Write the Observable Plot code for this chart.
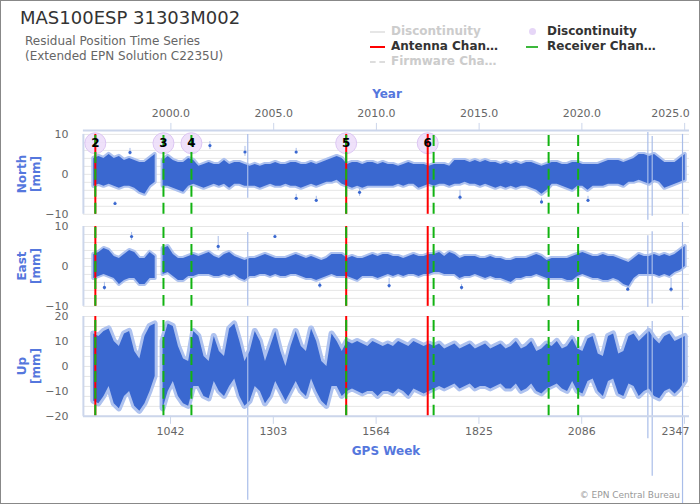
<!DOCTYPE html>
<html><head><meta charset="utf-8">
<script src="https://cdn.jsdelivr.net/npm/d3@7"></script>
<script src="https://cdn.jsdelivr.net/npm/@observablehq/plot@0.6"></script>
<style>
html,body{margin:0;padding:0;background:#fff;}
#frame{position:relative;width:698px;height:502px;border:1px solid #888;background:#fff;overflow:hidden;font-family:"DejaVu Sans",sans-serif;}
.abs{position:absolute;white-space:nowrap;}
#title{left:19px;top:6px;font-size:18px;color:#333;}
#sub{left:24px;top:33px;font-size:12px;color:#666;line-height:15px;}
.leg{position:absolute;font-size:12px;font-weight:bold;line-height:15px;height:15px;white-space:nowrap;}
.axt{position:absolute;font-size:12px;font-weight:bold;color:#5577dd;line-height:15px;text-align:center;width:120px;}
.ylab{position:absolute;width:80px;height:28px;transform:rotate(-90deg);text-align:center;line-height:14px;font-size:12px;font-weight:bold;color:#5577dd;}
#copy{right:19px;top:489px;font-size:9px;color:#999;}
.pl{position:absolute;left:-1px;}
</style></head><body>
<div id="frame">
  <div id="title" class="abs">MAS100ESP 31303M002</div>
  <div id="sub" class="abs">Residual Position Time Series<br>(Extended EPN Solution C2235U)</div>
  <div id="legend"></div>
  <div class="axt" style="left:326px;top:86px;">Year</div>
  <div class="axt" style="left:325px;top:443px;">GPS Week</div>
  <div class="ylab" style="left:-12px;top:159px;">North<br>[mm]</div>
  <div class="ylab" style="left:-12px;top:251px;">East<br>[mm]</div>
  <div class="ylab" style="left:-12px;top:351px;">Up<br>[mm]</div>
  <div id="copy" class="abs">© EPN Central Bureau</div>
  <div id="pN" class="pl" style="top:80px;"></div>
  <div id="pE" class="pl" style="top:221px;"></div>
  <div id="pU" class="pl" style="top:311px;"></div>
</div>
<script>
// ---------- data ----------
const weeks = [847,860,873,886,899,912,925,938,951,964,977,990,1003, 1013,
 1023,1036,1049,1062,1075,1088,1101,1114,1127,1140,
 1153,1166,1179,1192,1205,1218,1231,1244,1257,1270,
 1283,1296,1309,1322,1335,1348,1361,1374,1387,1400,
 1413,1426,1439,1452,1465,1478,1491,1504,1517,1530,
 1543,1556,1569,1582,1595,1608,1621,1634,1647,1660,
 1673,1686,1699,1712,1725,1738,1751,1764,1777,1790,
 1803,1816,1829,1842,1855,1868,1881,1894,1907,1920,
 1933,1946,1959,1972,1985,1998,2011,2024,2037,2050,
 2063,2076,2089,2102,2115,2128,2141,2154,2167,2180,
 2193,2206,2219,2232,2245,2258,2271,2284,2297,2310,
 2323,2336,2349];

const northHi = [4,4.5,4,5,4,4.5,3.5,4,3.5,3,3,4,5, null,
 3.5,4.5,3.5,3,3,4,3.5,2,2.5,3, 2.5,2.5,3.5,2.5,3,3,2.5,2,2.5,2,
 2.5,2.5,3,2.5,2.5,3,3,2.5,2.5,3, 2.5,3,3.5,4,4.5,4,2.5,3,3,2.5,
 3,3,2.5,3,2.5,
 2.5,2,2.5,3,2.5,2.5,2.5,2,2.5,2.5, 2.5,2,3.5,3.5,3.5,3,3.5,3,3.5,3,
 3,2.5,3,2.5,3,2.5,3,3,2.5,2, 2.5,3,3,2.5,2.5,3,3,2.5,2.5,2.5,
 2.5,3,3.5,3.5,3.5,3,3.5,4,5,5, 4.5,5,4,3,3,3,4,5];
const northLo = [-3,-2.5,-3,-2.5,-3,-3.5,-3,-3,-3.5,-4.5,-5,-3,-2, null,
 -3,-3,-3.5,-4,-4.5,-3,-2.5,-3,-3.5,-3, -2.5,-3,-2.5,-3.5,-2.5,-2.5,-3,-3,-3,-3.5,
 -3,-2.5,-3,-3,-2.5,-3,-3,-3.5,-3,-2.5, -3,-2.5,-2,-2,-1.5,-2.5,-3,-3.5,-3,-3.5,
 -3,-3,-3,-3,-3,
 -3,-2.5,-3,-2.5,-2.5,-3.5,-3,-2.5,-3,-2.5, -2.5,-3,-2.5,-2.5,-2,-2.5,-2.5,-3,-2.5,-3,
 -3.5,-3,-3.5,-3,-3.5,-3,-3,-3.5,-4,-5, -4,-2.5,-2.5,-3,-3.5,-4,-3,-3,-4,-3,
 -3,-3,-2.5,-2.5,-2.5,-3,-2,-2,-1.5,-2, -2.5,-1.5,-2,-3.5,-3,-2.5,-2,-1.5];

const eastHi = [3,3.5,4.5,4,2.5,2,3,4,3.5,2,2,3.5,2.5, null,
 4.5,5,3,2,2,2.5,3,2.5,3,3.5, 2.5,2,3,3.5,2.5,2,1.5,2,2,2.5,
 3,2.5,2,2,2,2.5,3,2.5,2,2.5, 2,1.5,2,3,3,3,2,2.5,2,2,
 2.5,3,2.5,3,3,
 2.5,2.5,2,2.5,3,2.5,2.5,3,3,3.5, 2.5,3.5,3,2,2.5,2.5,2.5,2,2,2.5,
 2,2,1.5,1.5,2,2,2,2.5,3,2.5, 1.5,2,2,2,2,2.5,3,3.5,3,2.5,
 2.5,3,2.5,2.5,2,1.5,1,2,3,2.5, 2.5,3,2.5,3,2.5,3,4,5];
const eastLo = [-3,-2.5,-2,-2.5,-3,-4.5,-3.5,-3,-3,-4.5,-4.5,-3,-3, null,
 -2,-1.5,-2.5,-3.5,-3.5,-2.5,-2.5,-2,-2,-2, -2.5,-2.5,-2,-2.5,-2,-3,-3.5,-2.5,-2.5,-2,
 -2,-2.5,-2,-2.5,-2.5,-2,-2,-2.5,-3,-3, -3.5,-3,-2.5,-2,-2.5,-2.5,-2.5,-3,-3.5,-2.5,
 -2.5,-2.5,-3,-2.5,-2,
 -2.5,-2,-2.5,-2,-2,-2.5,-2,-2,-1.5,-1.5, -2,-2,-2,-3,-2.5,-2.5,-2,-2.5,-3,-2.5,
 -3,-3,-3.5,-4,-3,-3,-2.5,-2.5,-2,-2.5, -3,-3,-3,-3,-3.5,-3.5,-2.5,-2,-2.5,-3,
 -3,-3.5,-3.5,-3,-3.5,-4.5,-5,-3,-2,-2, -2,-2,-2.5,-2,-2.5,-1.5,-1,0];

const upHi = [13,12,14,15,10,8,13,14,6,3,12,16,17, null,
 10,17,16,8,3,2,14,12,4,2, 12,6,4,15,17,10,2,6,14,10,
 2,8,14,6,0,8,14,8,6,15, 10,2,0,13,10,6,10,9,10,9,
 8,10,9,8,9,
 8,10,9,8,10,9,8,9,8,9, 7,8,9,7,8,9,7,8,9,7,
 8,9,7,8,10,7,8,10,6,7, 9,8,10,7,8,11,7,6,11,12,
 5,4,12,13,5,6,12,13,10,12, 14,11,9,12,13,10,11,12];
const upLo = [-14,-15,-12,-8,-15,-17,-12,-10,-16,-18,-15,-10,-4, null,
 -17,-10,-6,-12,-15,-16,-8,-8,-12,-13, -6,-10,-12,-8,-5,-12,-16,-14,-8,-10,
 -15,-12,-6,-10,-14,-10,-6,-10,-12,-5, -10,-14,-16,-8,-8,-12,-10,-9,-10,-11,
 -10,-10,-12,-10,-10,
 -11,-9,-10,-12,-9,-10,-11,-10,-9,-8, -9,-8,-7,-9,-8,-7,-9,-8,-8,-9,
 -8,-7,-9,-9,-7,-10,-9,-7,-10,-11, -9,-8,-7,-9,-10,-6,-10,-11,-6,-5,
 -10,-12,-6,-5,-11,-12,-7,-8,-12,-10, -9,-12,-13,-10,-9,-11,-9,-6];

// isolated points with their error bars
const northOutWeek = [901,939,1142,1231,1361,1361,1412,1522,1777,1984,2102];
const northOutVal  = [-7.3,5.5,7.2,5.6,5.6,-6,-6.5,-4.5,-5.7,-6.9,-6.5];
const northOutLo   = [-7.8,4.8,6.2,4.5,5,-6.5,-7,-5.5,-6.5,-7.5,-7];
const northOutHi   = [-6.8,6.5,8.2,7,6.5,-5,-5.5,-3.5,-4,-6,-5.5];
const eastOutWeek = [874,943,1163,1307,1421,1597,1781,2203,2313];
const eastOutVal  = [-5.25,7.5,5,7.5,-4.7,-4.8,-5.25,-5.7,-5.7];
const eastOutLo   = [-6,6.5,4,7,-5.5,-5.5,-6,-6.3,-6.5];
const eastOutHi   = [-4,8.5,7.5,8,-4,-3,-4.5,-5,-3];
// very long error bars
const longWeek = [1238,2254,2265,2342];
const northLongLo = [-6,-11.5,-10.5,-10], northLongHi = [10,10.5,9.5,10];
const eastLongLo = [-10,-10.3,-9.4,-11], eastLongHi = [8.5,7.7,8.7,11];
const upLongLo = [-53.6,-29,-44,-55], upLongHi = [20,16,18,20];

// events
const discLabel = ["2","3","4","5","6"];
const discWeek = [851,1024,1095,1488,1695];
const antennaWeek = [851,1488,1695];
const receiverWeek = [851,1024,1095,1488,1710,2002,2077];

// axes
const weekTicks = [1042,1303,1564,1825,2086,2347];
const yearValues = [2000,2005,2010,2015,2020,2025];
const yearLabels = ["2000.0","2005.0","2010.0","2015.0","2020.0","2025.0"];
const neTicks = [-10,0,10], upTicks = [-20,-10,0,10,20];
const neGrid = [-10,-8,-6,-4,-2,0,2,4,6,8,10];
const upGrid = [-20,-16,-12,-8,-4,0,4,8,12,16,20];

// ---------- build ----------
const xDomain = [820.7, 2359.7];
const num = v => v == null ? NaN : v;
const gpsEpoch = Date.UTC(1980,0,6);
const yearWeeks = yearValues.map(y => (Date.UTC(y,0,1) - gpsEpoch) / 604800000);
const yearFmt = new Map(yearWeeks.map((w,i) => [w, yearLabels[i]]));

function table(lo, hi){ return weeks.map((w,i)=>({w, lo:num(lo[i]), hi:num(hi[i])})); }
function outs(W,V,L,H){ return W.map((w,i)=>({w, v:V[i], lo:L[i], hi:H[i]})); }
function longs(L,H){ return longWeek.map((w,i)=>({w, lo:L[i], hi:H[i]})); }

const CORE = "#3a68d0", HALO = "#aec2ef", ERR = "#a9bde9";
const BORDER = "#ccd6eb", GRID = "#e6e6e6";

function panel({series, outliers, long, yDomain, lineDomain, grid, ticks, height, marginTop, marginBottom, halo, top, bottom, discs}){
  const marks = [
    Plot.ruleY(grid, {stroke: GRID, strokeWidth: 1}),
    Plot.ruleX([xDomain[0]], {y1: lineDomain[0], y2: lineDomain[1], stroke: BORDER, strokeWidth: 2}),
    Plot.areaY(series, {x:"w", y1:"lo", y2:"hi", fill: HALO, stroke: HALO, strokeWidth: halo, strokeLinejoin:"round"}),
    Plot.areaY(series, {x:"w", y1:"lo", y2:"hi", fill: CORE}),
  ];
  if (outliers) marks.push(
    Plot.ruleX(outliers, {x:"w", y1:"lo", y2:"hi", stroke: ERR}),
    Plot.dot(outliers, {x:"w", y:"v", r:1.6, fill: CORE})
  );
  marks.push(Plot.ruleX(long, {x:"w", y1:"lo", y2:"hi", stroke: ERR, strokeWidth: 1.2}));
  if (discs) marks.push(
    Plot.dot(discs, {x:"w", y:7.8, r:10.5, fill:"#ecdcf9", fillOpacity:0.85, stroke:"#dcc6f3", strokeWidth:1})
  );
  marks.push(
    Plot.ruleX(antennaWeek, {y1: lineDomain[0], y2: lineDomain[1], stroke:"#ff0000", strokeWidth:2}),
    Plot.ruleX(receiverWeek, {y1: lineDomain[0], y2: lineDomain[1], stroke:"#12b312", strokeWidth:2, strokeDasharray:"11,6"})
  );
  if (discs) marks.push(
    Plot.text(discs, {x:"w", y:7.8, text:"n", fill:"#000", fontWeight:"bold", fontSize:12})
  );
  marks.push(Plot.axisY({ticks, tickSize:0, tickPadding:15, fill:"#666", fontSize:11, label:null}));
  if (top) {
    const lastW = yearWeeks[yearWeeks.length-1];
    marks.push(
      Plot.ruleY([yDomain[1]], {stroke: BORDER, strokeWidth: 2}),
      Plot.axisX({anchor:"top", ticks: yearWeeks, tickFormat: d => d === lastW ? "" : yearFmt.get(d), tickSize:8, tickPadding:5, stroke: BORDER, fill:"#666", fontSize:11, label:null}),
      Plot.axisX({anchor:"top", ticks: [lastW], tickFormat: d => yearFmt.get(d), tickSize:0, tickPadding:13, textAnchor:"end", dx:5, fill:"#666", fontSize:11, label:null})
    );
  }
  if (bottom) {
    const lastT = weekTicks[weekTicks.length-1];
    marks.push(
      Plot.ruleY([yDomain[0]], {stroke: BORDER, strokeWidth: 2}),
      Plot.axisX({anchor:"bottom", ticks: weekTicks, tickFormat: d => d === lastT ? "" : String(d), tickSize:8, tickPadding:3, stroke: BORDER, fill:"#666", fontSize:11, label:null}),
      Plot.axisX({anchor:"bottom", ticks: [lastT], tickFormat: d => String(d), tickSize:0, tickPadding:11, textAnchor:"end", dx:5, fill:"#666", fontSize:11, label:null})
    );
  }
  return Plot.plot({
    width: 700, height, marginLeft: 83, marginRight: 10, marginTop, marginBottom,
    x: {domain: xDomain, axis: (top || bottom) ? undefined : null},
    y: {domain: yDomain},
    style: {fontFamily:"DejaVu Sans", fontSize:"11px", background:"transparent", overflow:"visible"},
    marks
  });
}

const discs = discWeek.map((w,i)=>({w, n: discLabel[i]}));

document.getElementById("pN").append(panel({
  series: table(northLo, northHi), outliers: outs(northOutWeek,northOutVal,northOutLo,northOutHi),
  long: longs(northLongLo, northLongHi), yDomain:[-10,11], lineDomain:[-10,10], grid: neGrid, ticks: neTicks,
  height: 135, marginTop: 49, marginBottom: 2, halo: 4, top: true, discs
}));
document.getElementById("pE").append(panel({
  series: table(eastLo, eastHi), outliers: outs(eastOutWeek,eastOutVal,eastOutLo,eastOutHi),
  long: longs(eastLongLo, eastLongHi), yDomain:[-10,10], lineDomain:[-10,10], grid: neGrid, ticks: neTicks,
  height: 88, marginTop: 4, marginBottom: 4, halo: 4
}));
document.getElementById("pU").append(panel({
  series: table(upLo, upHi), outliers: null,
  long: longs(upLongLo, upLongHi), yDomain:[-20,20], lineDomain:[-20,20], grid: upGrid, ticks: upTicks,
  height: 192, marginTop: 4, marginBottom: 88, halo: 6, bottom: true
}));

// legend
const legendItems = [
  {label:"Discontinuity", color:"#cccccc", type:"line", sw:"#e6e6e6", x:369, row:0},
  {label:"Antenna Chan…", color:"#333333", type:"line", sw:"#ff0000", x:369, row:1},
  {label:"Firmware Cha…", color:"#cccccc", type:"dash", sw:"#dddddd", x:369, row:2},
  {label:"Discontinuity", color:"#333333", type:"dot", sw:"#e6d6f7", x:524, row:0},
  {label:"Receiver Chan…", color:"#333333", type:"line", sw:"#3cb83c", x:524, row:1}
];
const leg = document.getElementById("legend");
legendItems.forEach(it => {
  const d = document.createElement("div");
  d.className = "leg";
  d.style.left = it.x + "px";
  d.style.top = (22.5 + it.row*15) + "px";
  const s = document.createElement("div");
  if (it.type === "dot") {
    s.style.cssText = `position:absolute;left:4px;top:4px;width:7px;height:7px;border-radius:50%;background:${it.sw};`;
  } else {
    const w = it.x > 500 ? 12 : 15;
    s.style.cssText = `position:absolute;left:${it.x>500?1:0}px;top:7px;width:${w}px;height:0;border-top:2px ${it.type==="dash"?"dashed":"solid"} ${it.sw};`;
  }
  d.append(s);
  const t = document.createElement("span");
  t.textContent = it.label;
  t.style.cssText = `position:absolute;left:${it.x>500?22:21}px;top:0;color:${it.color};`;
  d.append(t);
  leg.append(d);
});
</script>
</body></html>
